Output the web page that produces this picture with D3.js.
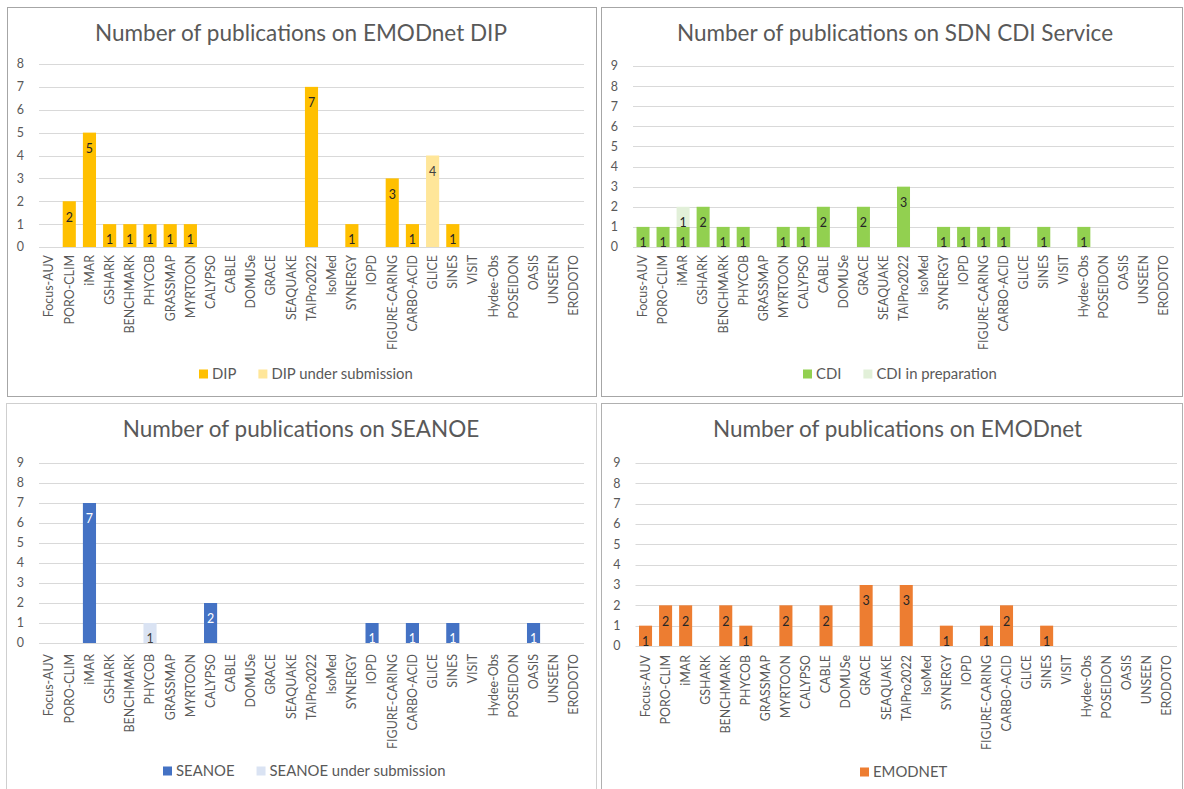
<!DOCTYPE html>
<html><head><meta charset="utf-8">
<script src="https://cdn.jsdelivr.net/npm/d3@7"></script>
<style>
body{margin:0;background:#fff;}
svg{display:block;}
text{font-family:Lato,"Open Sans",sans-serif;}
</style>
</head><body>
<svg id="chart" width="1184" height="789"></svg>
<script>
// ---------- DATA ----------
const categories = ["Focus-AUV","PORO-CLIM","iMAR","GSHARK","BENCHMARK","PHYCOB","GRASSMAP","MYRTOON","CALYPSO","CABLE","DOMUSe","GRACE","SEAQUAKE","TAIPro2022","IsoMed","SYNERGY","IOPD","FIGURE-CARING","CARBO-ACID","GLICE","SINES","VISIT","Hydee-Obs","POSEIDON","OASIS","UNSEEN","ERODOTO"];

const dipValues            = [0,2,5,1,1,1,1,1,0,0,0,0,0,7,0,1,0,3,1,0,1,0,0,0,0,0,0];
const dipSubmissionValues  = [0,0,0,0,0,0,0,0,0,0,0,0,0,0,0,0,0,0,0,4,0,0,0,0,0,0,0];
const cdiValues            = [1,1,1,2,1,1,0,1,1,2,0,2,0,3,0,1,1,1,1,0,1,0,1,0,0,0,0];
const cdiPreparationValues = [0,0,1,0,0,0,0,0,0,0,0,0,0,0,0,0,0,0,0,0,0,0,0,0,0,0,0];
const seanoeValues         = [0,0,7,0,0,0,0,0,2,0,0,0,0,0,0,0,1,0,1,0,1,0,0,0,1,0,0];
const seanoeSubmissionValues=[0,0,0,0,0,1,0,0,0,0,0,0,0,0,0,0,0,0,0,0,0,0,0,0,0,0,0];
const emodnetValues        = [1,2,2,0,2,1,0,2,0,2,0,3,0,3,0,1,0,1,2,0,1,0,0,0,0,0,0];

const ticksDip = [0,1,2,3,4,5,6,7,8];
const ticksNine = [0,1,2,3,4,5,6,7,8,9];

const titles = ["Number of publications on EMODnet DIP","Number of publications on SDN CDI Service","Number of publications on SEANOE","Number of publications on EMODnet"];

// ---------- LAYOUT ----------
const svg = d3.select("#chart");
const GREY = "#595959";

function measure(txt, size){
  const t = svg.append("text").attr("font-size", size).text(txt);
  const w = t.node().getComputedTextLength(); t.remove(); return w;
}
const titleSize  = 100 * 412 / measure(titles[0], 100);
const axisSize   = 100 * 95 / measure("FIGURE-CARING", 100);
const legendSize = 100 * 176 / measure("SEANOE under submission", 100);

const panels = [
  {box:[7,7,596,396], border:"#a6a6a6", xr:[39,584], y0:247, yTop:64, max:8, ticks:ticksDip, title:titles[0], tx:301, ty:41, labTop:255, legY:374, legX:199,
   series:[{name:"DIP", values:dipValues, color:"#FFC000", label:"#262626"},
           {name:"DIP under submission", values:dipSubmissionValues, color:"#FFE699", label:"#404040"}]},
  {box:[601,7,1182,396], border:"#a6a6a6", xr:[633,1174], y0:247, yTop:66, max:9, ticks:ticksNine, title:titles[1], tx:895, ty:41, labTop:255, legY:374, legX:803,
   series:[{name:"CDI", values:cdiValues, color:"#92D050", label:"#262626"},
           {name:"CDI in preparation", values:cdiPreparationValues, color:"#E2F0D9", label:"#262626"}]},
  {box:[6,403,596,790], border:"#cfcfcf", xr:[39,584], y0:643, yTop:463, max:9, ticks:ticksNine, title:titles[2], tx:301, ty:437, labTop:654, legY:771, legX:163,
   series:[{name:"SEANOE", values:seanoeValues, color:"#4472C4", label:"#ffffff"},
           {name:"SEANOE under submission", values:seanoeSubmissionValues, color:"#DAE3F3", label:"#404040"}]},
  {box:[601,403,1182,790], border:"#b0b0b0", xr:[635.5,1177], y0:646, yTop:463, max:9, ticks:ticksNine, title:titles[3], tx:897.5, ty:437, labTop:655, legY:772, legX:860,
   series:[{name:"EMODNET", values:emodnetValues, color:"#ED7D31", label:"#262626"}]}
];

panels.forEach(p => {
  const g = svg.append("g");
  const [x0,y0b,x1,y1b] = p.box;
  g.append("rect").attr("x",x0+0.5).attr("y",y0b+0.5).attr("width",x1-x0).attr("height",y1b-y0b)
    .attr("fill","#fff").attr("stroke",p.border).attr("stroke-width",1);

  g.append("text").attr("x",p.tx).attr("y",p.ty).attr("text-anchor","middle")
    .attr("font-size",titleSize).attr("fill",GREY).text(p.title);

  const x = d3.scaleBand().domain(categories).range(p.xr).paddingInner(0.35).paddingOuter(0.175);
  const y = d3.scaleLinear().domain([0,p.max]).range([p.y0,p.yTop]);

  // gridlines
  g.append("g").selectAll("line").data(p.ticks).join("line")
    .attr("x1",p.xr[0]).attr("x2",p.xr[1])
    .attr("y1",d=>Math.round(y(d))+0.5).attr("y2",d=>Math.round(y(d))+0.5)
    .attr("stroke","#d9d9d9").attr("stroke-width",1);

  // y axis labels
  const ya = g.append("g").attr("transform",`translate(${p.xr[0]},0)`)
    .call(d3.axisLeft(y).tickValues(p.ticks).tickSize(0).tickPadding(15).tickFormat(d3.format("d")));
  ya.select(".domain").remove();
  ya.selectAll("text").attr("font-size",axisSize).attr("fill",GREY).style("font-family","Lato,'Open Sans',sans-serif");

  // bars (stacked)
  const keys = p.series.map(s=>s.name);
  const rows = categories.map((c,i)=>{ const r={cat:c}; p.series.forEach(s=>r[s.name]=s.values[i]); return r; });
  const stack = d3.stack().keys(keys)(rows);
  const bw = x.bandwidth();
  stack.forEach((layer,si) => {
    const s = p.series[si];
    const lg = g.append("g");
    lg.selectAll("rect").data(layer.filter(d=>d[1]-d[0]>0)).join("rect")
      .attr("x",d=>x(d.data.cat)).attr("width",bw)
      .attr("y",d=>y(d[1])).attr("height",d=>y(d[0])-y(d[1]))
      .attr("fill",s.color);
    lg.selectAll("text").data(layer.filter(d=>d[1]-d[0]>0)).join("text")
      .attr("x",d=>x(d.data.cat)+bw/2).attr("y",d=>y(d[1])+16)
      .attr("dy","0.35em").attr("text-anchor","middle")
      .attr("font-size",axisSize).attr("fill",s.label)
      .text(d=>d[1]-d[0]);
  });

  // x labels
  g.append("g").selectAll("text").data(categories).join("text")
    .attr("transform",d=>`translate(${x(d)+bw/2},${p.labTop}) rotate(-90)`)
    .attr("dy","0.35em").attr("text-anchor","end")
    .attr("font-size",axisSize).attr("fill",GREY).text(d=>d);

  // legend
  let lx = p.legX;
  p.series.forEach(s=>{
    g.append("rect").attr("x",lx).attr("y",p.legY-4.5).attr("width",9).attr("height",9).attr("fill",s.color);
    const t = g.append("text").attr("x",lx+13).attr("y",p.legY).attr("dy","0.35em")
      .attr("font-size",legendSize).attr("fill",GREY).text(s.name);
    lx += 13 + t.node().getComputedTextLength() + 22;
  });
});
</script>
</body></html>
